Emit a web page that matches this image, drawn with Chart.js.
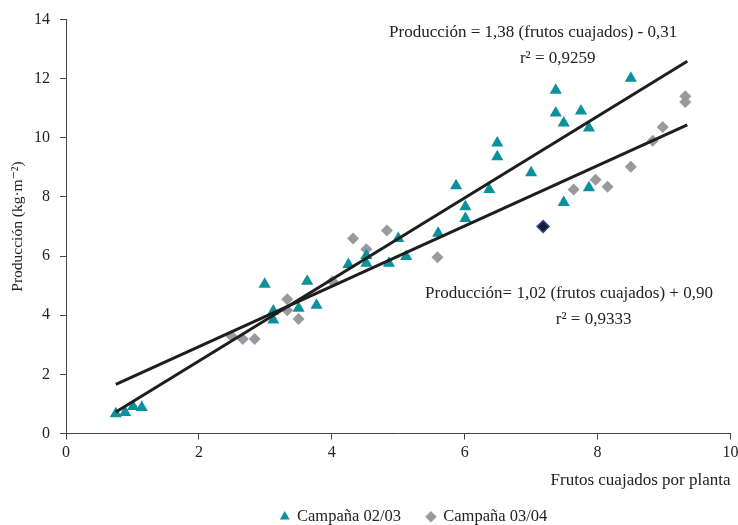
<!DOCTYPE html>
<html>
<head>
<meta charset="utf-8">
<script src="https://cdn.jsdelivr.net/npm/chart.js@4/dist/chart.umd.min.js"></script>
<style>
  html, body { margin: 0; padding: 0; background: #fff; }
  #wrap { width: 738px; height: 525px; }
</style>
</head>
<body>
<div id="wrap"><canvas id="myChart"></canvas></div>
<script>
// Campaña 02/03 (triángulos)
const frutos0203 = [0.75, 0.89, 1.01, 1.14, 2.99, 3.12, 3.12, 3.50, 3.63, 3.77, 4.25, 4.52, 4.52, 4.86, 5.12, 5.00,
    5.60, 6.01, 6.01, 5.87, 6.37, 6.49, 6.49, 7.00, 7.37, 7.37, 7.49, 7.75, 7.87, 8.50, 7.87, 7.49];
const prod0203 = [0.67, 0.71, 0.91, 0.88, 5.05, 3.84, 4.14, 4.24, 5.15, 4.34, 5.72, 6.02, 5.76, 5.76, 5.99, 6.60,
    6.77, 7.27, 7.67, 8.38, 8.25, 9.83, 9.36, 8.82, 11.61, 10.84, 10.50, 10.91, 10.33, 12.02, 8.31, 7.81];

// Campaña 03/04 (rombos)
const frutos0304 = [2.49, 2.66, 2.84, 3.33, 3.33, 3.50, 4.01, 4.32, 4.52, 4.83, 5.59, 7.64, 7.97, 8.15, 8.50, 8.83, 8.98, 9.32, 9.32];
const prod0304 = [3.30, 3.20, 3.20, 4.54, 4.17, 3.87, 5.15, 6.60, 6.23, 6.87, 5.96, 8.25, 8.58, 8.35, 9.02, 9.90, 10.37, 11.41, 11.21];

// punto destacado
const frutosDestacado = [7.18];
const prodDestacado = [7.00];

// rectas de regresión (pendiente, ordenada) y rango
const rectaA = [1.38, -0.31];
const rectaB = [1.02, 0.90];
const rangoX = [0.75, 9.35];

const ecuaciones = [
    { text: 'Producción = 1,38 (frutos cuajados) - 0,31', x: 7.03, y: 13.55 },
    { text: 'r² = 0,9259', x: 7.40, y: 12.7 },
    { text: 'Producción= 1,02 (frutos cuajados) + 0,90', x: 7.57, y: 4.75 },
    { text: 'r² = 0,9333', x: 7.94, y: 3.87 }
];

function toPoints(xs, ys) {
    return xs.map((x, i) => ({ x: x, y: ys[i] }));
}

function lineData(r) {
    return rangoX.map(x => ({ x: x, y: r[0] * x + r[1] }));
}

const serif = "'Liberation Serif', 'DejaVu Serif', serif";

const textPlugin = {
    id: 'ecuaciones',
    afterLayout(chart) {
        // la leyenda del original está algo desplazada a la derecha
        if (chart.legend) {
            chart.legend.left += 48;
            chart.legend.right += 48;
        }
    },
    afterDatasetsDraw(chart) {
        const ctx = chart.ctx;
        const xs = chart.scales.x, ys = chart.scales.y;
        ctx.save();
        ctx.font = '17px ' + serif;
        ctx.fillStyle = '#222';
        ctx.textAlign = 'center';
        ctx.textBaseline = 'middle';
        ecuaciones.forEach(e => {
            ctx.fillText(e.text, xs.getPixelForValue(e.x), ys.getPixelForValue(e.y));
        });
        ctx.restore();
    }
};

const ctx = document.getElementById('myChart').getContext('2d');
const myChart = new Chart(ctx, {
    type: 'scatter',
    data: {
        datasets: [
            {
                label: 'Campaña 02/03',
                data: toPoints(frutos0203, prod0203),
                pointStyle: 'triangle',
                pointRadius: 7,
                backgroundColor: '#0a919b',
                borderColor: '#0a919b',
                borderWidth: 0,
                order: 2
            },
            {
                label: 'Campaña 03/04',
                data: toPoints(frutos0304, prod0304),
                pointStyle: 'rectRot',
                pointRadius: 6,
                backgroundColor: '#9a9a9e',
                borderColor: '#9a9a9e',
                borderWidth: 0,
                order: 3
            },
            {
                label: 'destacado',
                data: toPoints(frutosDestacado, prodDestacado),
                pointStyle: 'rectRot',
                pointRadius: 6,
                backgroundColor: '#1b1b2a',
                borderColor: '#2d44a8',
                borderWidth: 1.5,
                order: 1
            },
            {
                label: 'rectaA',
                type: 'line',
                data: lineData(rectaA),
                borderColor: '#1e1e1e',
                borderWidth: 3,
                pointRadius: 0,
                fill: false,
                order: 0
            },
            {
                label: 'rectaB',
                type: 'line',
                data: lineData(rectaB),
                borderColor: '#1e1e1e',
                borderWidth: 3,
                pointRadius: 0,
                fill: false,
                order: 0
            }
        ]
    },
    options: {
        responsive: true,
        maintainAspectRatio: false,
        animation: false,
        layout: { padding: { left: 0, right: 6, top: 17, bottom: -10 } },
        plugins: {
            legend: {
                position: 'bottom',
                labels: {
                    usePointStyle: true,
                    boxWidth: 8,
                    boxHeight: 8,
                    padding: 26,
                    color: '#222',
                    font: { family: serif, size: 16.5 },
                    filter: item => item.datasetIndex < 2
                }
            },
            tooltip: { enabled: false }
        },
        scales: {
            x: {
                type: 'linear',
                min: 0,
                max: 10,
                ticks: {
                    stepSize: 2,
                    color: '#222',
                    padding: 4,
                    font: { family: serif, size: 16 }
                },
                grid: { drawOnChartArea: false, drawTicks: true, tickLength: 6, color: '#444' },
                border: { color: '#444', width: 1 },
                title: {
                    display: true,
                    align: 'end',
                    text: 'Frutos cuajados por planta',
                    color: '#222',
                    font: { family: serif, size: 17 },
                    padding: { top: 14, bottom: -8 }
                },
                afterFit: s => { s.height = 49; s.paddingRight = 0; }
            },
            y: {
                min: 0,
                max: 14,
                ticks: {
                    stepSize: 2,
                    color: '#222',
                    padding: 10,
                    font: { family: serif, size: 16 }
                },
                grid: { drawOnChartArea: false, drawTicks: true, tickLength: 6, color: '#444' },
                border: { color: '#444', width: 1 },
                title: {
                    display: true,
                    text: 'Producción (kg·m⁻²)',
                    color: '#222',
                    font: { family: serif, size: 15.5 },
                    padding: { top: 9, bottom: 0 }
                },
                afterFit: s => { s.width = 66; }
            }
        }
    },
    plugins: [textPlugin]
});
</script>
</body>
</html>
